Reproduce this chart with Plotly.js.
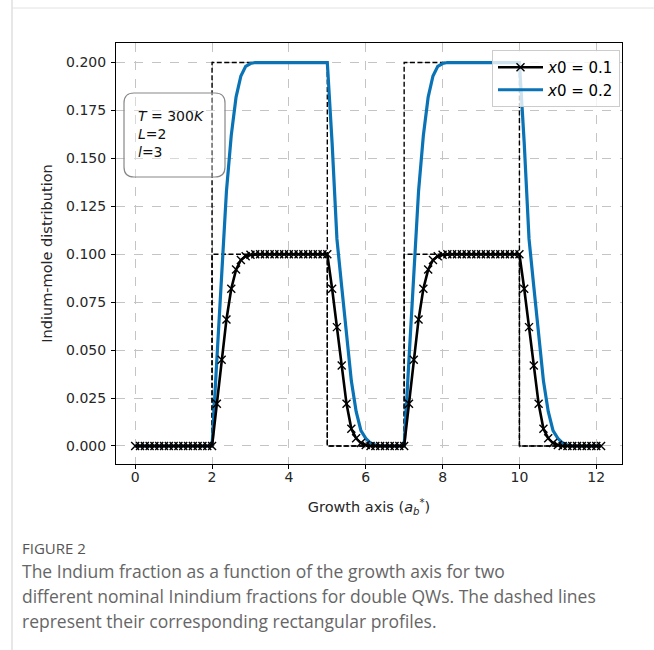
<!DOCTYPE html>
<html>
<head>
<meta charset="utf-8">
<script src="https://cdn.plot.ly/plotly-3.0.1.min.js"></script>
<style>html,body{margin:0;padding:0;background:#fff;}#chart{width:654px;height:650px;}</style>
</head>
<body>
<div id="chart"></div>
<script>
// Growth-axis positions (a_b*)
const xGrid = [0,0.125,0.25,0.375,0.5,0.625,0.75,0.875,1,1.125,1.25,1.375,1.5,1.625,1.75,1.875,2,
  2.125,2.25,2.375,2.5,2.625,2.75,2.875,3,3.125,3.25,3.375,3.5,3.625,3.75,3.875,4,4.125,4.25,4.375,4.5,4.625,4.75,4.875,5,
  5.125,5.25,5.375,5.5,5.625,5.75,5.875,6,6.125,6.25,6.375,6.5,6.625,6.75,6.875,7,
  7.125,7.25,7.375,7.5,7.625,7.75,7.875,8,8.125,8.25,8.375,8.5,8.625,8.75,8.875,9,9.125,9.25,9.375,9.5,9.625,9.75,9.875,10,
  10.125,10.25,10.375,10.5,10.625,10.75,10.875,11,11.125,11.25,11.375,11.5,11.625,11.75,11.875,12,12.125];

// x0 = 0.1 profile
const yX01 = [0,0,0,0,0,0,0,0,0,0,0,0,0,0,0,0,0,
  0.022,0.045,0.066,0.082,0.092,0.097,0.099,0.0997,0.1,0.1,0.1,0.1,0.1,0.1,0.1,0.1,0.1,0.1,0.1,0.1,0.1,0.1,0.1,0.1,
  0.082,0.062,0.042,0.022,0.009,0.004,0.0015,0.0005,0,0,0,0,0,0,0,0,
  0.022,0.045,0.066,0.082,0.092,0.097,0.099,0.0997,0.1,0.1,0.1,0.1,0.1,0.1,0.1,0.1,0.1,0.1,0.1,0.1,0.1,0.1,0.1,0.1,
  0.082,0.062,0.042,0.022,0.009,0.004,0.0015,0.0005,0,0,0,0,0,0,0,0,0];

// x0 = 0.2 profile
const yX02 = [0,0,0,0,0,0,0,0,0,0,0,0,0,0,0,0,0,
  0.045,0.093,0.133,0.162,0.182,0.193,0.198,0.1995,0.2,0.2,0.2,0.2,0.2,0.2,0.2,0.2,0.2,0.2,0.2,0.2,0.2,0.2,0.2,0.2,
  0.158,0.108,0.083,0.058,0.034,0.018,0.008,0.004,0.0015,0.0005,0,0,0,0,0,0,
  0.045,0.093,0.133,0.162,0.182,0.193,0.198,0.1995,0.2,0.2,0.2,0.2,0.2,0.2,0.2,0.2,0.2,0.2,0.2,0.2,0.2,0.2,0.2,0.2,
  0.158,0.108,0.083,0.058,0.034,0.018,0.008,0.004,0.0015,0.0005,0,0,0,0,0,0,0];

// Nominal rectangular profiles
const rectX = [0,2,2,5,5,7,7,10,10,12.1];
const rectY01 = [0,0,0.1,0.1,0,0,0.1,0.1,0,0];
const rectY02 = [0,0,0.2,0.2,0,0,0.2,0.2,0,0];

const seriesNames = ['<i>x</i>0 = 0.1', '<i>x</i>0 = 0.2'];
const xTicks = [0,2,4,6,8,10,12];
const yTicks = [0,0.025,0.05,0.075,0.1,0.125,0.15,0.175,0.2];
const captionLines = [
  'The Indium fraction as a function of the growth axis for two',
  'different nominal Inindium fractions for double QWs. The dashed lines',
  'represent their corresponding rectangular profiles.'
];

const dashLine = {color:'#000', width:1.4, dash:'5px,2.5px'};
const traces = [
  {x:rectX, y:rectY02, mode:'lines', line:dashLine, showlegend:false, hoverinfo:'skip'},
  {x:rectX, y:rectY01, mode:'lines', line:dashLine, showlegend:false, hoverinfo:'skip'},
  {x:xGrid, y:yX02, name:seriesNames[1], mode:'lines', line:{color:'#0a73b5', width:3.2}, legendrank:2},
  {x:xGrid, y:yX01, name:seriesNames[0], mode:'lines+markers', line:{color:'#000', width:2.6},
   marker:{symbol:'x-thin', size:8, color:'#000', line:{color:'#000', width:1.4}}, legendrank:1}
];

// Plot area: x 116..622, y 43..464
const L=116, R=622, T=43, B=464, W=R-L, H=B-T;
const px = v => (v-L)/W;
const py = v => 1-(v-T)/H;

const bx0=px(124), bx1=px(225), byt=py(93), byb=py(177), rx=10/W, ry=10/H;
const boxPath = `M ${bx0+rx},${byt} L ${bx1-rx},${byt} Q ${bx1},${byt} ${bx1},${byt-ry} L ${bx1},${byb+ry} Q ${bx1},${byb} ${bx1-rx},${byb} L ${bx0+rx},${byb} Q ${bx0},${byb} ${bx0},${byb+ry} L ${bx0},${byt-ry} Q ${bx0},${byt} ${bx0+rx},${byt} Z`;

const tickFont = {family:'DejaVu Sans', size:14, color:'#262626'};
const axisCommon = {
  showline:true, mirror:true, linecolor:'#000', linewidth:1,
  ticks:'outside', ticklen:4, tickwidth:1, tickcolor:'#000',
  showgrid:true, gridcolor:'#c4c4c4', griddash:'dash', gridwidth:1,
  zeroline:false, tickfont:tickFont
};

const capAnn = (text, yPix, font) => ({xref:'paper', yref:'paper', x:px(20), y:py(yPix), xanchor:'left', yanchor:'middle',
  align:'left', showarrow:false, text:text, font:font});
const capFont = {family:'Open Sans', size:17.5, color:'#666'};

const layout = {
  width:654, height:650,
  margin:{l:L, r:654-R, t:T, b:650-B},
  paper_bgcolor:'#fff', plot_bgcolor:'#fff',
  showlegend:true,
  xaxis:Object.assign({}, axisCommon, {range:[-0.5,12.67], tickvals:xTicks, ticktext:xTicks.map(String), ticklabelstandoff:-4,
    title:{text:'Growth axis (<i>a</i><sub><i>b</i></sub><sup>*</sup>)', font:{family:'DejaVu Sans', size:14.5, color:'#262626'}, standoff:18}}),
  yaxis:Object.assign({}, axisCommon, {range:[-0.0094,0.2102], tickvals:yTicks, ticktext:yTicks.map(v=>v.toFixed(3)), ticklabelstandoff:2,
    title:{text:'Indium-mole distribution', font:{family:'DejaVu Sans', size:14.5, color:'#262626'}, standoff:10}}),
  legend:{x:px(620), y:py(50), xanchor:'right', yanchor:'top', bgcolor:'rgba(255,255,255,0.8)',
    bordercolor:'#cccccc', borderwidth:1, font:{family:'DejaVu Sans', size:15, color:'#000'},
    itemwidth:45, tracegroupgap:0},
  shapes:[
    {type:'path', xref:'paper', yref:'paper', path:boxPath, line:{color:'#888', width:1.2},
     fillcolor:'rgba(255,255,255,0.35)', layer:'above'},
    {type:'line', xref:'paper', yref:'paper', x0:px(12), x1:px(12), y0:py(0), y1:py(650), line:{color:'#cfcfcf', width:1}},
    {type:'line', xref:'paper', yref:'paper', x0:px(12), x1:px(654), y0:py(8), y1:py(8), line:{color:'#e2e2e2', width:1}}
  ],
  annotations:[
    {xref:'paper', yref:'paper', x:px(136), y:py(134), xanchor:'left', yanchor:'middle', align:'left', showarrow:false,
     text:'<i>T</i> = 300<i>K</i><br><i>L</i>=2<br><i>l</i>=3', font:{family:'DejaVu Sans', size:14, color:'#111'}},
    capAnn('FIGURE 2', 548, {family:'Open Sans', size:15, color:'#555'}),
    capAnn(captionLines[0], 571, capFont),
    capAnn(captionLines[1], 596, capFont),
    capAnn(captionLines[2], 621, capFont)
  ]
};

Plotly.newPlot('chart', traces, layout, {displayModeBar:false, staticPlot:true});
</script>
</body>
</html>
